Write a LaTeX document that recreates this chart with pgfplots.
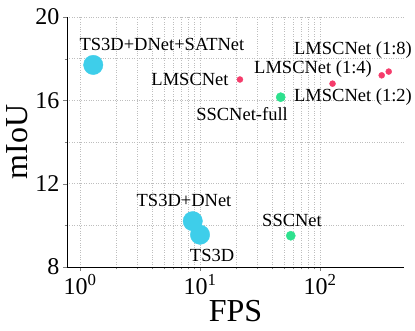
\documentclass[border=0pt]{standalone}
\usepackage{fontspec}
\setmainfont{Liberation Serif}
\usepackage{pgfplots}
\pgfplotsset{compat=1.18}
\definecolor{ptcyan}{HTML}{3ECEEA}
\definecolor{ptgreen}{HTML}{2EE18E}
\definecolor{ptred}{HTML}{F53C6B}
\definecolor{gridgray}{HTML}{BEBEBE}

\begin{document}
\begin{tikzpicture}
\begin{axis}[
    scale only axis,
    width=337pt,
    height=250pt,
    xmode=log,
    xmin=0.78, xmax=500,
    ymin=8, ymax=20,
    xtick={1,10,100},
    xticklabels={10\textsuperscript{0},10\textsuperscript{1},10\textsuperscript{2}},
    ytick={8,12,16,20},
    minor ytick={10,14,18},
    /pgf/number format/assume math mode=true,
    axis x line*=bottom,
    axis y line*=left,
    tick align=outside,
    major tick length=4pt,
    minor tick length=2.5pt,
    grid=both,
    major grid style={gridgray, dotted, thin},
    minor grid style={gridgray, dotted, thin},
    tick label style={font=\fontsize{24}{28}\selectfont},
    label style={font=\fontsize{32}{36}\selectfont, inner sep=1pt},
    xlabel={FPS},
    ylabel={mIoU},
    xlabel style={yshift=-1pt},
    ylabel style={yshift=3pt},
    clip=false,
    nodes={font=\fontsize{18.5}{22}\selectfont},
]
% TS3D family
\addplot[only marks, mark=*, mark size=9.7pt, ptcyan, mark options={draw=ptcyan, fill=ptcyan}]
    coordinates {(1.29,17.7) (8.7,10.2) (10.0,9.55)};
% SSCNet family
\addplot[only marks, mark=*, mark size=4.6pt, ptgreen, mark options={draw=ptgreen, fill=ptgreen}]
    coordinates {(47,16.15) (57,9.5)};
% LMSCNet family
\addplot[only marks, mark=*, mark size=3pt, ptred, mark options={draw=ptred, fill=ptred}]
    coordinates {(21.5,17.0) (127,16.8) (326,17.2) (373,17.38)};

\node at (axis cs:4.82,18.66) {TS3D+DNet+SATNet};
\node[anchor=east] at (axis cs:18.5,17.0) {LMSCNet};
\node at (axis cs:22.4,15.34) {SSCNet-full};
\node at (axis cs:188,16.16) {LMSCNet (1:2)};
\node at (axis cs:87.4,17.5) {LMSCNet (1:4)};
\node at (axis cs:188,18.42) {LMSCNet (1:8)};
\node at (axis cs:7.36,11.17) {TS3D+DNet};
\node at (axis cs:12.6,8.53) {TS3D};
\node at (axis cs:58.4,10.25) {SSCNet};
\end{axis}
\pgfresetboundingbox
\path[use as bounding box] (-67pt,-64pt) rectangle (348pt,267pt);
\end{tikzpicture}
\end{document}
